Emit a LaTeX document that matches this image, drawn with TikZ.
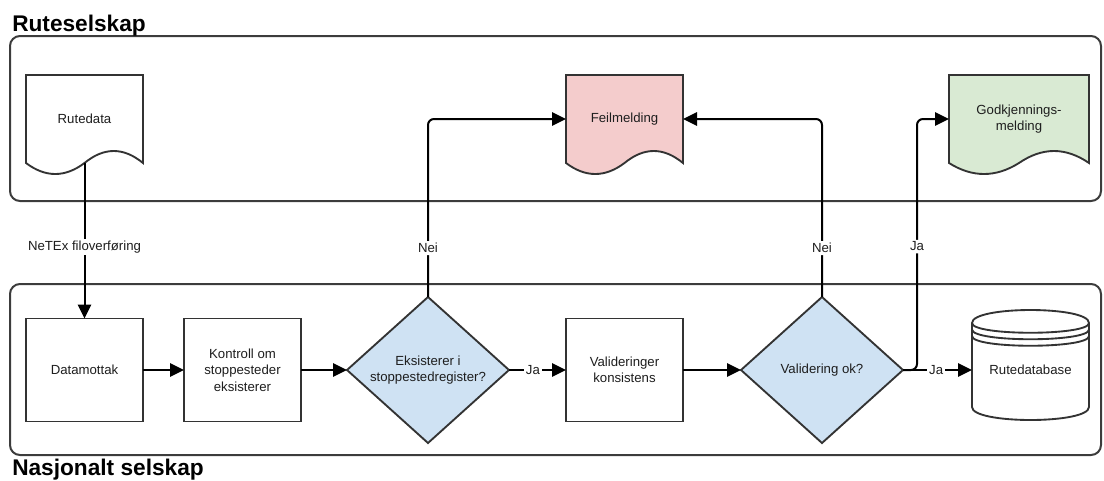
\documentclass[tikz,border=0pt]{standalone}
\usepackage{fontspec}
\setmainfont{Liberation Sans}
\usetikzlibrary{arrows.meta,shapes.geometric,calc,backgrounds}

\definecolor{strokegray}{HTML}{333333}
\definecolor{lanegray}{HTML}{3C3C3C}
\definecolor{errfill}{HTML}{F4CCCC}
\definecolor{okfill}{HTML}{D9EAD3}
\definecolor{decfill}{HTML}{CFE2F3}
\definecolor{txtcol}{HTML}{1E1E1E}

\newcommand{\bodyfont}{\fontsize{9.9pt}{12.4pt}\selectfont}
\newcommand{\titlefont}{\fontsize{17pt}{20pt}\selectfont\bfseries}

% Document symbol with a wavy bottom edge, drawn from the node's top-left corner.
% #1 = node name, #2 = width (px), #3 = fill colour
\newcommand{\drawdoc}[3]{%
  \draw[shapeline, fill=#3, shift={(#1.north west)}]
    (0,0) -- (#2,0) -- (#2,88)
    .. controls ({#2*5/6},72) and ({#2*2/3},72) .. ({#2/2},88)
    .. controls ({#2/3},102.67) and ({#2/6},102.67) .. (0,88) -- cycle;}

\tikzset{
  shapeline/.style={draw=strokegray, line width=1.4pt},
  lane/.style={draw=lanegray, line width=1.5pt, rounded corners=7.5pt},
  title/.style={font=\titlefont, text=black, inner sep=0pt, anchor=base west},
  txt/.style={font=\bodyfont, text=txtcol, align=center},
  procbox/.style={txt, rectangle, shapeline, fill=white, minimum width=87.75pt,
    minimum height=77.25pt, inner sep=0pt, outer sep=0pt},
  decision/.style={txt, diamond, shape aspect=1.11, shapeline, fill=decfill,
    minimum width=121.5pt, minimum height=109.5pt, inner sep=0pt, outer sep=0pt},
  docnode/.style={txt, rectangle, minimum height=66pt, inner sep=0pt, outer sep=0pt},
  dbnode/.style={txt, rectangle, minimum width=87.75pt, minimum height=75pt,
    inner sep=0pt, outer sep=0pt},
  conn/.style={draw=black, line width=1.5pt, -{Triangle[length=10.5pt,width=10pt]}},
  lbl/.style={txt, fill=white, inner sep=1.6pt},
}

\begin{document}
\begin{tikzpicture}[x=0.75pt, y=-0.75pt]
\useasboundingbox (0,0) rectangle (1104,480);

% lanes
\draw[lane] (10,36) rectangle (1101,201);
\draw[lane] (10,284) rectangle (1101,455);
\node[title] (lanetop) at (12,31) {Ruteselskap};
\node[title] (lanebottom) at (12,475) {Nasjonalt selskap};

% documents
\node[docnode, minimum width=87.75pt] (rutedata) at (84.5,119) {Rutedata};
\node[docnode, minimum width=87.75pt] (feil) at (624.5,119) {Feilmelding};
\node[docnode, minimum width=105pt] (godk) at (1019,119) {Godkjennings-\\melding};

% process steps
\node[procbox] (datamottak) at (84.5,370) {Datamottak};
\node[procbox] (kontroll) at (242.5,370) {Kontroll om\\stoppesteder\\eksisterer};
\node[decision] (eks) at (428,370) {Eksisterer i\\stoppestedregister?};
\node[procbox] (validering) at (624.5,370) {Valideringer\\konsistens};
\node[decision] (valok) at (822,370) {Validering ok?};
\node[dbnode] (rdb) at (1030.5,370) {Rutedatabase};

\begin{pgfonlayer}{background}
  \drawdoc{rutedata}{117}{white}
  \drawdoc{feil}{117}{errfill}
  \drawdoc{godk}{140}{okfill}
  % data store cylinder with stacked rims
  \begin{scope}[shift={($(rdb.north west)+(0,-10)$)}]
    \draw[shapeline, fill=white] (0,13) .. controls (0,-4.33) and (117,-4.33) .. (117,13)
      -- (117,97) .. controls (117,114.33) and (0,114.33) .. (0,97) -- cycle;
    \foreach \dd in {0,6.5,13}
      \draw[shapeline] (0,13+\dd) .. controls (0,26+\dd) and (117,26+\dd) .. (117,13+\dd);
  \end{scope}
\end{pgfonlayer}

% connectors
\draw[conn] (rutedata.south) -- node[lbl, pos=0.54] {NeTEx filoverføring} (datamottak.north);
\draw[conn] (datamottak.east) -- (kontroll.west);
\draw[conn] (kontroll.east) -- (eks.west);
\draw[conn] (eks.east) -- node[lbl, pos=0.42] {Ja} (validering.west);
\draw[conn] (validering.east) -- (valok.west);
\draw[conn] (valok.east) -- node[lbl, pos=0.48] {Ja} (valok.east -| rdb.west);
\draw[conn, rounded corners=4.5pt] (eks.north) |- node[lbl, pos=0.1376] {Nei} (feil.west);
\draw[conn, rounded corners=4.5pt] (valok.north) |- node[lbl, pos=0.1376] {Nei} (feil.east);
\draw[conn, rounded corners=4.5pt] (valok.east) -- ++(14,0) |- node[lbl, pos=0.246] {Ja} (godk.west);
\end{tikzpicture}
\end{document}
